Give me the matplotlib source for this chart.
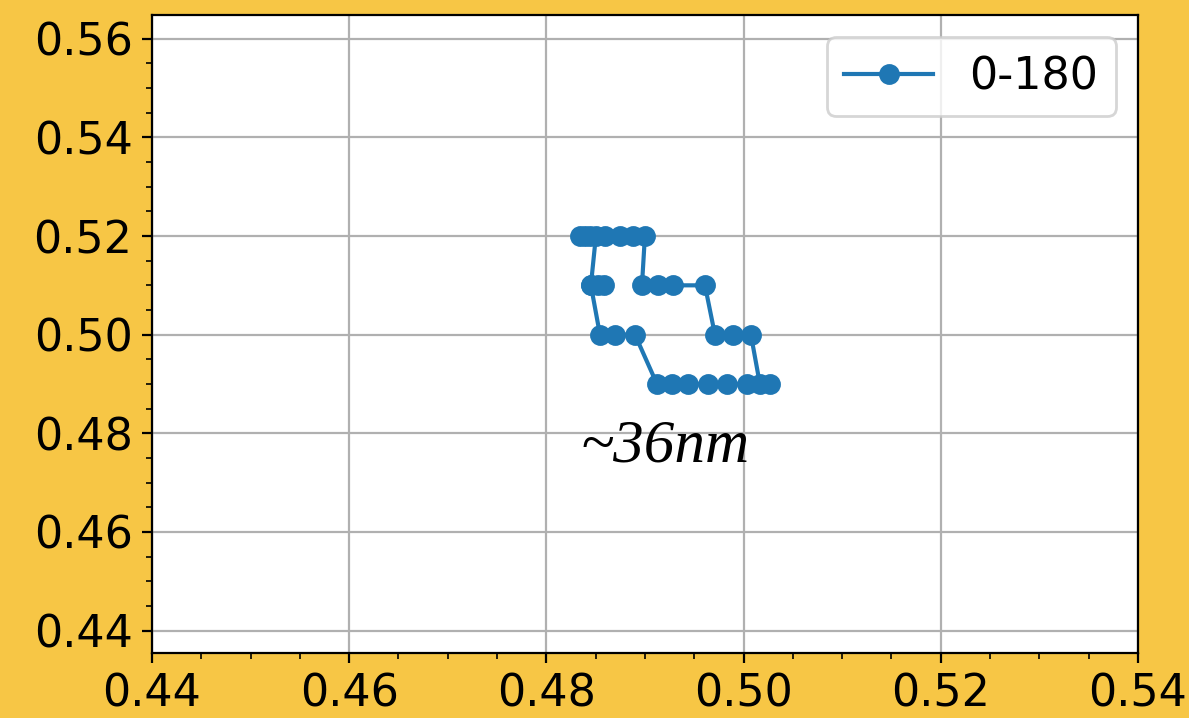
import matplotlib
matplotlib.use("Agg")
import matplotlib.pyplot as plt

# trajectory points (x, y), in plotting order
xs = [0.48584, 0.48523, 0.48452,
      0.48503, 0.48442, 0.48391, 0.48341, 0.48594, 0.48746, 0.48878, 0.49000,
      0.48970, 0.49132, 0.49284, 0.49609,
      0.49710, 0.49892, 0.50075,
      0.50166, 0.50268, 0.50034, 0.49832, 0.49639, 0.49436, 0.49274, 0.49122,
      0.48899, 0.48696, 0.48544,
      0.48452]
ys = [0.51, 0.51, 0.51,
      0.52, 0.52, 0.52, 0.52, 0.52, 0.52, 0.52, 0.52,
      0.51, 0.51, 0.51, 0.51,
      0.50, 0.50, 0.50,
      0.49, 0.49, 0.49, 0.49, 0.49, 0.49, 0.49, 0.49,
      0.50, 0.50, 0.50,
      0.51]
series_label = "0-180"
note = "~36nm"

bg = "#f7c645"
fig = plt.figure(figsize=(5.945, 3.59), dpi=200, facecolor=bg)
ax = fig.add_axes([0.1278, 0.0909, 0.957 - 0.1278, 0.979 - 0.0909])

ax.plot(xs, ys, marker="o", markersize=6.5, color="#1f77b4", label=series_label)
ax.set_xlim(0.44, 0.54)
ax.set_ylim(0.4355, 0.5648)
ax.minorticks_on()
ax.grid(True, which="major")
ax.tick_params(labelsize=16)
ax.legend(fontsize=16, loc="upper right")

# annotation below the loop
ax.text(0.49203, 0.47422, note, ha="center", va="baseline",
        fontsize=22, style="italic", family="Liberation Serif")

fig.savefig("out.png", dpi=200, facecolor=bg)
